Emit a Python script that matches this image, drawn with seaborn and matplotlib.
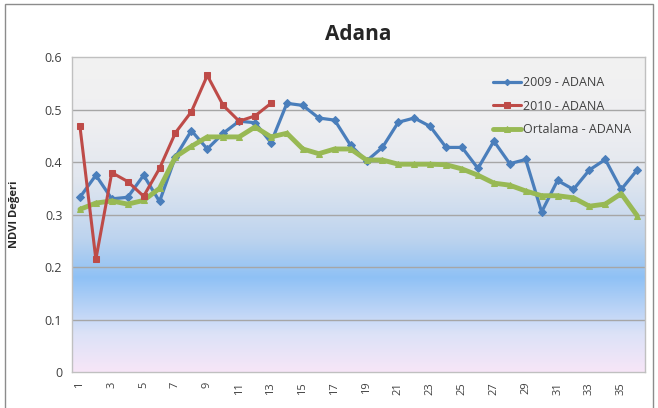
import matplotlib
matplotlib.use("Agg")
import matplotlib.pyplot as plt
from matplotlib.colors import LinearSegmentedColormap
from matplotlib.patches import Rectangle
import numpy as np
import pandas as pd
import seaborn as sns

# Veriler (grafikten okunan NDVI degerleri)
donem = list(range(1, 37))
ndvi_2009 = [0.333, 0.375, 0.330, 0.333, 0.375, 0.325, 0.410, 0.460, 0.425, 0.455,
             0.478, 0.475, 0.437, 0.512, 0.508, 0.484, 0.480, 0.432, 0.402, 0.428,
             0.476, 0.484, 0.468, 0.428, 0.428, 0.388, 0.440, 0.397, 0.405, 0.305,
             0.365, 0.348, 0.385, 0.405, 0.348, 0.385]
ndvi_2010 = [0.468, 0.215, 0.380, 0.363, 0.335, 0.388, 0.456, 0.496, 0.565, 0.508,
             0.478, 0.488, 0.512]
ndvi_ort = [0.310, 0.322, 0.326, 0.320, 0.327, 0.350, 0.410, 0.430, 0.448, 0.448,
            0.448, 0.467, 0.448, 0.455, 0.425, 0.416, 0.425, 0.425, 0.404, 0.404,
            0.396, 0.396, 0.396, 0.395, 0.387, 0.375, 0.360, 0.356, 0.345, 0.336,
            0.336, 0.332, 0.316, 0.320, 0.340, 0.298]
etiketler = ["2009 - ADANA", "2010 - ADANA", "Ortalama - ADANA"]
xticks = list(range(1, 37, 2))
yticks = [0, 0.1, 0.2, 0.3, 0.4, 0.5, 0.6]

df09 = pd.DataFrame({"x": donem, "y": ndvi_2009})
df10 = pd.DataFrame({"x": donem[:len(ndvi_2010)], "y": ndvi_2010})
dfort = pd.DataFrame({"x": donem, "y": ndvi_ort})

sns.set_style("white")
plt.rcParams['font.family'] = ['Open Sans', 'DejaVu Sans']

fig = plt.figure(figsize=(6.58, 4.08), dpi=100)
fig.patch.set_facecolor("white")
# cerceve
fig.patches.append(Rectangle((0.008, -0.01), 0.985, 1.0, transform=fig.transFigure,
                             fill=False, edgecolor="#8c8c8c", linewidth=1.0))
ax = fig.add_axes([0.1094, 0.088, 0.871, 0.772])

# arka plan gradyani
grad = LinearSegmentedColormap.from_list("g", [
    (0.0, "#f7e6f8"),
    (0.12, "#dce2f7"),
    (0.30, "#8fc1f5"),
    (0.42, "#bcd3ee"),
    (0.62, "#e2e7ef"),
    (0.80, "#efeff1"),
    (1.0, "#f2f2f2")])
ax.imshow(np.linspace(0, 1, 256).reshape(-1, 1), cmap=grad, origin="lower",
          extent=[0.5, 36.5, 0, 0.6], aspect="auto", zorder=0)

for yv in yticks[1:-1]:
    ax.axhline(yv, color="#a6a6a6", linewidth=1.0, zorder=1)

sns.lineplot(data=df09, x="x", y="y", ax=ax, color="#4a7ebb", linewidth=2.3,
             marker="D", markersize=4, markeredgecolor="#4a7ebb", label=etiketler[0], zorder=3)
sns.lineplot(data=df10, x="x", y="y", ax=ax, color="#be4b48", linewidth=2.2,
             marker="s", markersize=5, markeredgecolor="#be4b48", label=etiketler[1], zorder=4)
sns.lineplot(data=dfort, x="x", y="y", ax=ax, color="#98b954", linewidth=3.5,
             marker="^", markersize=5, markeredgecolor="#98b954", label=etiketler[2], zorder=3)

ax.set_xlim(0.5, 36.5)
ax.set_ylim(0, 0.6)
ax.set_xticks(xticks)
ax.set_xticklabels([str(t) for t in xticks], rotation=90, fontsize=8, color="#404040")
ax.set_yticks(yticks)
ax.set_yticklabels(["0", "0.1", "0.2", "0.3", "0.4", "0.5", "0.6"], fontsize=9, color="#404040")
ax.tick_params(axis="both", length=0, pad=7)
ax.set_xlabel("")
ax.set_ylabel("NDVI Değeri", fontsize=8, fontweight="bold", labelpad=18)
ax.set_title("Adana", fontsize=15, fontweight="bold", pad=12)
for s in ax.spines.values():
    s.set_color("#c0c0c0")
    s.set_linewidth(1.0)

leg = ax.legend(loc="upper right", bbox_to_anchor=(0.995, 0.975), frameon=False,
                fontsize=9, handlelength=2.2, markerscale=0.8,
                labelspacing=0.85, handletextpad=0.15)
for t in leg.get_texts():
    t.set_color("#404040")

fig.savefig("out.png", dpi=100)
